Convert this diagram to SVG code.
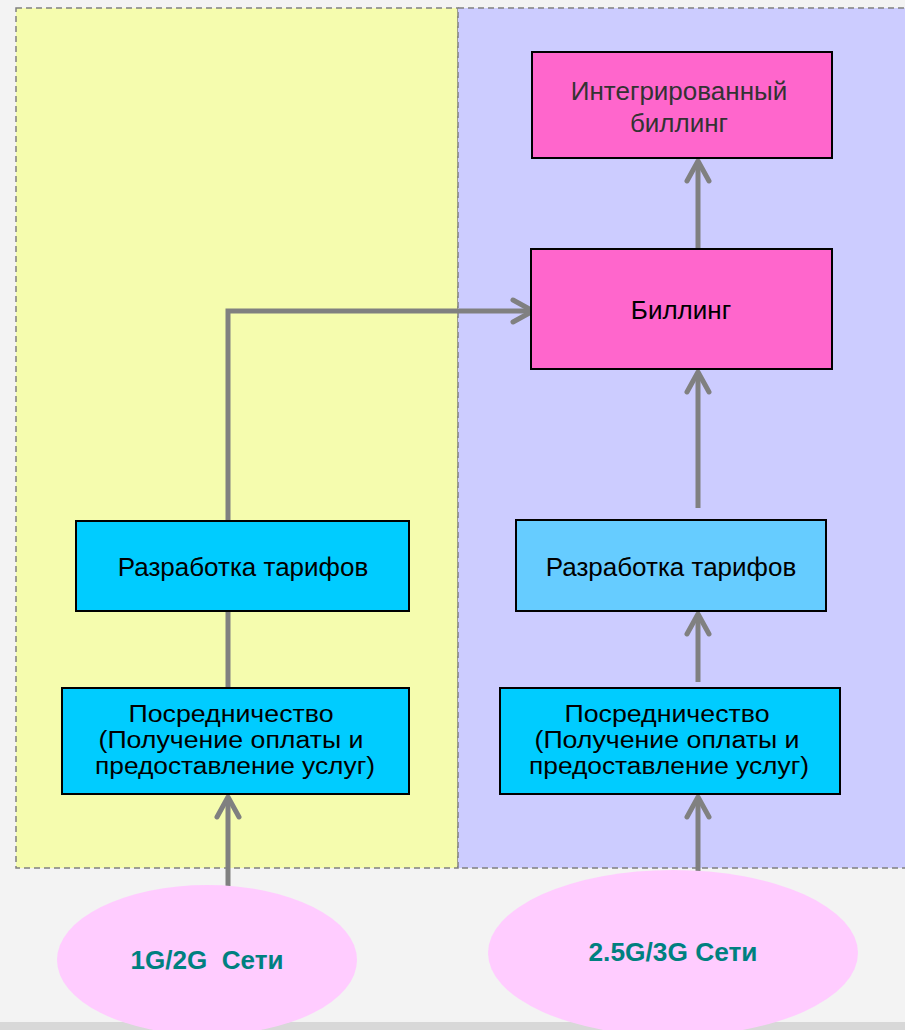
<svg xmlns="http://www.w3.org/2000/svg" width="905" height="1030" viewBox="0 0 905 1030">
<defs>
<style>
.panel{stroke:#808080;stroke-width:1.5;stroke-dasharray:6 4}
.box{stroke:#000;stroke-width:2}
.pink{fill:#ff66cc}
.cyan{fill:#00ccff}
.lcyan{fill:#66ccff}
.t{font-family:"Liberation Sans",Arial,sans-serif;font-size:26px;fill:#000;text-anchor:middle}
.m{font-size:23px}
.tg{fill:#333}
.et{font-family:"Liberation Sans Narrow","Liberation Sans",Arial,sans-serif;font-size:25px;font-weight:bold;fill:#008080;text-anchor:middle}
.ell{fill:#ffccff}
.c{fill:none;stroke:#808080;stroke-width:5}
</style>
<marker id="arr" viewBox="0 0 30 30" refX="26" refY="15" markerWidth="30" markerHeight="30" markerUnits="userSpaceOnUse" orient="auto">
<path d="M6 4 L26 15 L6 26" fill="none" stroke="#808080" stroke-width="5" stroke-linecap="round" stroke-linejoin="round"/>
</marker>
</defs>
<rect x="0" y="0" width="905" height="1030" fill="#f3f3f3"/>
<rect x="0" y="1022" width="905" height="8" fill="#d8d8d8"/>
<g id="panel-left"><rect class="panel" x="16" y="8" width="442" height="860" fill="#f5fcae"/></g>
<g id="panel-right"><rect class="panel" x="458" y="8" width="450" height="860" fill="#ccccff"/></g>
<g id="connectors">
<path class="c" d="M228 892 V797" marker-end="url(#arr)"/>
<path class="c" d="M228 688 V611"/>
<path class="c" d="M228 521 V311 H533" marker-end="url(#arr)"/>
<path class="c" d="M698 884 V797" marker-end="url(#arr)"/>
<path class="c" d="M698 682 V614" marker-end="url(#arr)"/>
<path class="c" d="M698 508 V372" marker-end="url(#arr)"/>
<path class="c" d="M698 249 V161" marker-end="url(#arr)"/>
</g>
<g id="integrated-billing">
<rect class="box pink" x="532" y="52" width="300" height="106"/>
<text class="t tg" x="679" y="100">Интегрированный</text>
<text class="t tg" x="679" y="132">биллинг</text>
</g>
<g id="billing">
<rect class="box pink" x="531" y="249" width="301" height="120"/>
<text class="t" x="681" y="319">Биллинг</text>
</g>
<g id="tariff-left">
<rect class="box cyan" x="76" y="521" width="333" height="90"/>
<text class="t" x="243" y="576">Разработка тарифов</text>
</g>
<g id="tariff-right">
<rect class="box lcyan" x="516" y="520" width="310" height="91"/>
<text class="t" x="671" y="576">Разработка тарифов</text>
</g>
<g id="mediation-left">
<rect class="box cyan" x="62" y="688" width="347" height="106"/>
<text class="t m" x="231" y="722" textLength="205" lengthAdjust="spacingAndGlyphs">Посредничество</text>
<text class="t m" x="231" y="748" textLength="265" lengthAdjust="spacingAndGlyphs">(Получение оплаты и</text>
<text class="t m" x="235" y="774" textLength="280" lengthAdjust="spacingAndGlyphs">предоставление услуг)</text>
</g>
<g id="mediation-right">
<rect class="box cyan" x="500" y="688" width="340" height="106"/>
<text class="t m" x="667" y="722" textLength="205" lengthAdjust="spacingAndGlyphs">Посредничество</text>
<text class="t m" x="667" y="748" textLength="265" lengthAdjust="spacingAndGlyphs">(Получение оплаты и</text>
<text class="t m" x="669" y="774" textLength="280" lengthAdjust="spacingAndGlyphs">предоставление услуг)</text>
</g>
<g id="net-1g2g">
<ellipse class="ell" cx="207" cy="960" rx="150" ry="75"/>
<text class="et" x="207" y="969" textLength="153" lengthAdjust="spacingAndGlyphs" xml:space="preserve">1G/2G  Сети</text>
</g>
<g id="net-25g3g">
<ellipse class="ell" cx="673" cy="953" rx="185" ry="83"/>
<text class="et" x="673" y="961" textLength="169" lengthAdjust="spacingAndGlyphs">2.5G/3G Сети</text>
</g>
</svg>
